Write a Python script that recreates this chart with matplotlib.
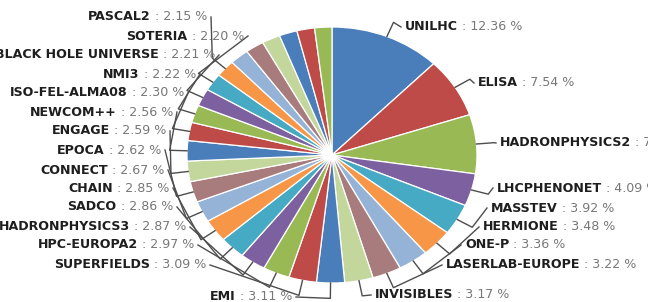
import numpy as np
import matplotlib.pyplot as plt
from matplotlib.transforms import offset_copy

# -------------------------------
# Data (share of funding, %)
# -------------------------------
projects = ["UNILHC", "ELISA", "HADRONPHYSICS2", "LHCPHENONET", "MASSTEV",
            "HERMIONE", "ONE-P", "LASERLAB-EUROPE", "INVISIBLES", "EMI",
            "SUPERFIELDS", "HPC-EUROPA2", "HADRONPHYSICS3", "SADCO", "CHAIN",
            "CONNECT", "EPOCA", "ENGAGE", "NEWCOM++", "ISO-FEL-ALMA08",
            "NMI3", "BLACK HOLE UNIVERSE", "SOTERIA", "PASCAL2"]
shares = [12.36, 7.54, 7.45, 4.09, 3.92, 3.48, 3.36, 3.22, 3.17, 3.11,
          3.09, 2.97, 2.87, 2.86, 2.85, 2.67, 2.62, 2.59, 2.56, 2.30,
          2.22, 2.21, 2.20, 2.15]
# small slices at the top whose labels are not shown
unlabelled = [2.12, 2.07, 2.03, 2.00, 1.97, 1.92]

palette = ["#4a7ebb", "#be4b48", "#98b954", "#7d60a0", "#46aac5",
           "#f79646", "#95b3d7", "#a87c7c", "#c3d69b"]

# -------------------------------
# Layout (pixels in the 648x302 picture)
# -------------------------------
W, H = 648, 302
CX, CY = 332, 155     # pie centre
RX, RY = 145, 128     # the pie is stretched sideways
FS = 9.1
# label anchor: (x, y, side) - side 'L' = text ends at x, 'R' = text starts at x
label_pos = [(405, 27, "R"), (478, 83, "R"), (500, 143, "R"), (497, 188, "R"),
             (491, 208, "R"), (483, 227, "R"), (465, 245, "R"), (446, 265, "R"),
             (375, 295, "R"), (292, 297, "L"),
             (206, 265, "L"), (194, 245, "L"), (186, 227, "L"), (173, 207, "L"),
             (169, 188, "L"), (164, 170, "L"), (161, 150, "L"), (166, 131, "L"),
             (173, 112, "L"), (184, 93, "L"), (196, 74, "L"), (215, 55, "L"),
             (244, 36, "L"), (207, 17, "L")]


def px(x, y):
    return (x - CX) / RX, (CY - y) / RY


fig = plt.figure(figsize=(W / 100, H / 100), dpi=100)
ax = fig.add_axes([0, 0, 1, 1])

values = shares + unlabelled
colors = [palette[i % len(palette)] for i in range(len(values))]
ax.pie(values, colors=colors, startangle=90, counterclock=False, radius=1,
       wedgeprops=dict(edgecolor="white", linewidth=0.9))
ax.set_aspect("auto")
ax.set_xlim(-CX / RX, (W - CX) / RX)
ax.set_ylim(-(H - CY) / RY, CY / RY)
ax.axis("off")

renderer = fig.canvas.get_renderer()
total = sum(values)
cum = np.cumsum([0] + values)

for i, (name, val) in enumerate(zip(projects, shares)):
    mid = 2 * np.pi * (cum[i] + val / 2) / total
    sx, sy = np.sin(mid), np.cos(mid)
    lx, ly, side = label_pos[i]
    gap = 4 if side == "L" else -4
    ex, ey = px(lx + gap, ly)
    ax.plot([sx, 1.12 * sx, ex], [sy, 1.12 * sy, ey],
            color="#4d4d4d", lw=1.0, solid_joinstyle="round")

    tx, ty = px(lx, ly)
    vtxt = " : %.2f %%" % val
    if side == "R":
        t1 = ax.text(tx, ty, name, ha="left", va="center", fontsize=FS,
                     fontweight="bold", color="#1e1e1e")
        w = t1.get_window_extent(renderer).width
        ax.text(tx, ty, vtxt, ha="left", va="center", fontsize=FS,
                color="#777777",
                transform=offset_copy(ax.transData, fig=fig, x=w, units="dots"))
    else:
        t2 = ax.text(tx, ty, vtxt, ha="right", va="center", fontsize=FS,
                     color="#777777")
        w = t2.get_window_extent(renderer).width
        ax.text(tx, ty, name, ha="right", va="center", fontsize=FS,
                fontweight="bold", color="#1e1e1e",
                transform=offset_copy(ax.transData, fig=fig, x=-w, units="dots"))

fig.savefig("out.png", dpi=100)
